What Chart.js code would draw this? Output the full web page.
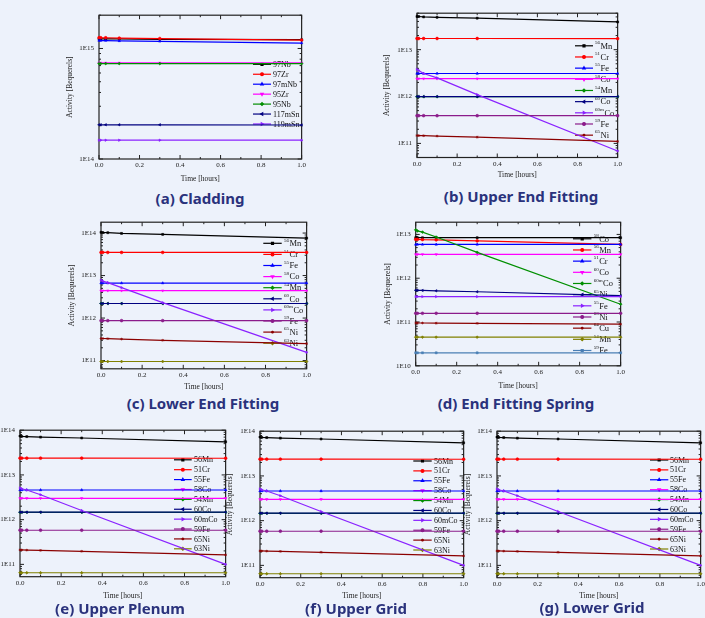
<!DOCTYPE html>
<html>
<head>
<meta charset="utf-8">
<script src="https://cdn.jsdelivr.net/npm/chart.js@4.4.1/dist/chart.umd.min.js"></script>
<style>
  body { margin: 0; background: #edf2fb; }
  #page { position: relative; width: 705px; height: 618px; overflow: hidden; background: #edf2fb; }
  #page canvas { position: absolute; }
  .cap { position: absolute; transform: translate(-50%, -50%); font: bold 15px "Noto Sans", sans-serif; color: #2a327c; white-space: nowrap; }
</style>
</head>
<body>
<div id="page"></div>
<script>
// tempos de resfriamento (horas) e ticks do eixo x
const hours = [0, 0.0083, 0.033, 0.1, 0.3, 1.0];
const hourTicks = [0, 0.2, 0.4, 0.6, 0.8, 1.0];

// (a) Cladding
const cladNames = ['97Nb', '97Zr', '97mNb', '95Zr', '95Nb', '117mSn', '119mSn'];
const cladNb97 = [1.22e15, 1.22e15, 1.22e15, 1.22e15, 1.21e15, 1.20e15];
const cladZr97 = [1.25e15, 1.25e15, 1.25e15, 1.24e15, 1.23e15, 1.19e15];
const cladNb97m = [1.18e15, 1.18e15, 1.18e15, 1.17e15, 1.16e15, 1.12e15];
const cladZr95 = [7.4e14, 7.4e14, 7.4e14, 7.4e14, 7.4e14, 7.4e14];
const cladNb95 = [7.3e14, 7.3e14, 7.3e14, 7.3e14, 7.3e14, 7.3e14];
const cladSn117m = [2.04e14, 2.04e14, 2.04e14, 2.04e14, 2.04e14, 2.03e14];
const cladSn119m = [1.48e14, 1.48e14, 1.48e14, 1.48e14, 1.48e14, 1.48e14];
const cladTicks = [1e14, 1e15];

// (b) Upper End Fitting
const uefNames = ['56Mn', '51Cr', '55Fe', '58Co', '54Mn', '60Co', '60mCo', '59Fe', '65Ni'];
const uefMn56 = [5.1e13, 5.1e13, 5.0e13, 4.9e13, 4.7e13, 3.9e13];
const uefCr51 = [1.73e13, 1.73e13, 1.73e13, 1.73e13, 1.73e13, 1.72e13];
const uefFe55 = [3.1e12, 3.1e12, 3.1e12, 3.1e12, 3.1e12, 3.1e12];
const uefCo58 = [2.4e12, 2.4e12, 2.4e12, 2.4e12, 2.4e12, 2.4e12];
const uefMn54 = [9.9e11, 9.9e11, 9.9e11, 9.9e11, 9.9e11, 9.9e11];
const uefCo60 = [1.0e12, 1.0e12, 1.0e12, 1.0e12, 1.0e12, 1.0e12];
const uefCo60m = [3.8e12, 3.6e12, 3.1e12, 2.5e12, 1.1e12, 6.9e10];
const uefFe59 = [3.9e11, 3.9e11, 3.9e11, 3.9e11, 3.9e11, 3.9e11];
const uefNi65 = [1.47e11, 1.47e11, 1.46e11, 1.43e11, 1.36e11, 1.1e11];
const uefTicks = [1e11, 1e12, 1e13];

// (c) Lower End Fitting
const lefNames = ['56Mn', '51Cr', '55Fe', '58Co', '54Mn', '60Co', '60mCo', '59Fe', '65Ni', '63Ni'];
const lefMn56 = [1.04e14, 1.03e14, 1.02e14, 9.8e13, 9.3e13, 7.6e13];
const lefCr51 = [3.5e13, 3.5e13, 3.5e13, 3.5e13, 3.5e13, 3.5e13];
const lefFe55 = [6.65e12, 6.65e12, 6.65e12, 6.65e12, 6.65e12, 6.65e12];
const lefCo58 = [4.4e12, 4.4e12, 4.4e12, 4.4e12, 4.4e12, 4.4e12];
const lefMn54 = [2.2e12, 2.2e12, 2.2e12, 2.2e12, 2.2e12, 2.2e12];
const lefCo60 = [2.2e12, 2.2e12, 2.2e12, 2.2e12, 2.2e12, 2.2e12];
const lefCo60m = [7.8e12, 7.4e12, 6.8e12, 5.2e12, 2.3e12, 1.56e11];
const lefFe59 = [8.7e11, 8.7e11, 8.7e11, 8.7e11, 8.7e11, 8.7e11];
const lefNi65 = [3.3e11, 3.3e11, 3.28e11, 3.2e11, 3.0e11, 2.5e11];
const lefNi63 = [9.5e10, 9.5e10, 9.5e10, 9.5e10, 9.5e10, 9.5e10];
const lefTicks = [1e11, 1e12, 1e13, 1e14];

// (d) End Fitting Spring
const sprNames = ['58Co', '56Mn', '51Cr', '60Co', '60mCo', '65Ni', '55Fe', '63Ni', '64Cu', '54Mn', '59Fe'];
const sprCo58 = [8.4e12, 8.4e12, 8.4e12, 8.4e12, 8.4e12, 8.4e12];
const sprMn56 = [7.7e12, 7.7e12, 7.6e12, 7.5e12, 7.1e12, 5.9e12];
const sprCr51 = [5.9e12, 5.9e12, 5.9e12, 5.9e12, 5.9e12, 5.9e12];
const sprCo60 = [3.5e12, 3.5e12, 3.5e12, 3.5e12, 3.5e12, 3.5e12];
const sprCo60m = [1.27e13, 1.2e13, 1.13e13, 8.7e12, 3.9e12, 2.55e11];
const sprNi65 = [5.3e11, 5.3e11, 5.25e11, 5.15e11, 4.9e11, 4.0e11];
const sprFe55 = [3.8e11, 3.8e11, 3.8e11, 3.8e11, 3.8e11, 3.8e11];
const sprNi63 = [1.58e11, 1.58e11, 1.58e11, 1.58e11, 1.58e11, 1.58e11];
const sprCu64 = [9.5e10, 9.5e10, 9.5e10, 9.4e10, 9.3e10, 8.9e10];
const sprMn54 = [4.5e10, 4.5e10, 4.5e10, 4.5e10, 4.5e10, 4.5e10];
const sprFe59 = [1.98e10, 1.98e10, 1.98e10, 1.98e10, 1.98e10, 1.98e10];
const sprTicks = [1e10, 1e11, 1e12, 1e13];

// (e) Upper Plenum, (f) Upper Grid, (g) Lower Grid
const pgNames = ['56Mn', '51Cr', '55Fe', '58Co', '54Mn', '60Co', '60mCo', '59Fe', '65Ni', '63Ni'];
const pgMn56 = [7.4e13, 7.3e13, 7.2e13, 7.0e13, 6.7e13, 5.5e13];
const pgCr51 = [2.37e13, 2.37e13, 2.37e13, 2.37e13, 2.37e13, 2.36e13];
const pgFe55 = [4.6e12, 4.6e12, 4.6e12, 4.6e12, 4.6e12, 4.6e12];
const pgCo58 = [3.0e12, 3.0e12, 3.0e12, 3.0e12, 3.0e12, 3.0e12];
const pgMn54 = [1.46e12, 1.46e12, 1.46e12, 1.46e12, 1.46e12, 1.46e12];
const pgCo60 = [1.47e12, 1.47e12, 1.47e12, 1.47e12, 1.47e12, 1.47e12];
const pgCo60m = [5.1e12, 4.9e12, 4.6e12, 3.6e12, 1.6e12, 1.0e11];
const pgFe59 = [5.8e11, 5.8e11, 5.8e11, 5.8e11, 5.8e11, 5.8e11];
const pgNi65 = [2.1e11, 2.1e11, 2.08e11, 2.05e11, 1.96e11, 1.63e11];
const pgNi63 = [6.5e10, 6.5e10, 6.5e10, 6.5e10, 6.5e10, 6.5e10];
const pgTicks = [1e11, 1e12, 1e13, 1e14];

// cores e símbolos no estilo do Origin (mesma ordem em todos os painéis)
const colors = ['#000000', '#ff0000', '#0000ff', '#ff00ff', '#008f00', '#000080', '#8a22ff', '#8b1c8b', '#8b0000', '#808000', '#4a7fb5'];
const markers = [['rect', 0], ['circle', 0], ['triangle', 0], ['triangle', 180], ['rectRot', 0], ['triangle', -90],
                 ['triangle', 90], ['circle', 0], ['star', 0], ['rectRot', 0], ['rect', 0]];

const serif = "'Liberation Serif', 'DejaVu Serif', serif";
const page = document.getElementById('page');

// legenda dentro da área do gráfico (linha + símbolo + texto)
const inLegend = {
    id: 'inLegend',
    beforeDatasetsDraw(chart, args, o) {
        const ctx = chart.ctx;
        ctx.save();
        chart.data.datasets.forEach((ds, i) => {
            const y = o.y0 + i * o.dy - o.top;
            const x1 = o.x1 - o.left, x2 = o.x2 - o.left;
            ctx.strokeStyle = ds.borderColor;
            ctx.fillStyle = ds.borderColor;
            ctx.lineWidth = 1.2;
            ctx.beginPath(); ctx.moveTo(x1, y); ctx.lineTo(x2, y); ctx.stroke();
            Chart.helpers.drawPoint(ctx, { pointStyle: ds.pointStyle, rotation: ds.rotation, radius: 1.4, borderWidth: 0.6 }, (x1 + x2) / 2, y);
            ctx.fillStyle = '#111';
            ctx.textBaseline = 'middle';
            let tx = o.tx - o.left;
            const m = ds.label.match(/^(\d+m?)(.+)$/);
            if (o.sup && m) {
                ctx.font = '5px ' + serif;
                ctx.fillText(m[1], tx, y - 3);
                tx += ctx.measureText(m[1]).width + 0.5;
                ctx.font = o.size + 'px ' + serif;
                ctx.fillText(m[2], tx, y + 0.5);
            } else {
                ctx.font = o.size + 'px ' + serif;
                ctx.fillText(ds.label, tx, y + 0.5);
            }
        });
        ctx.restore();
    }
};

// moldura e ticks internos (maiores e menores)
const frame = {
    id: 'frame',
    beforeDatasetsDraw(chart) {
        const { ctx, chartArea: a, scales: { x, y } } = chart;
        ctx.save();
        ctx.strokeStyle = '#222';
        ctx.lineWidth = 1;
        ctx.beginPath();
        hourTicks.forEach((v, i) => {
            const p = x.getPixelForValue(v);
            ctx.moveTo(p, a.bottom); ctx.lineTo(p, a.bottom - 4);
            ctx.moveTo(p, a.top); ctx.lineTo(p, a.top + 4);
            if (i > 0) {
                const q = x.getPixelForValue(v - 0.1);
                ctx.moveTo(q, a.bottom); ctx.lineTo(q, a.bottom - 2);
                ctx.moveTo(q, a.top); ctx.lineTo(q, a.top + 2);
            }
        });
        const e0 = Math.floor(Math.log10(y.min)), e1 = Math.ceil(Math.log10(y.max));
        for (let e = e0; e <= e1; e++) {
            for (let k = 1; k <= 9; k++) {
                const v = k * Math.pow(10, e);
                if (v < y.min || v > y.max) continue;
                const p = y.getPixelForValue(v), len = k === 1 ? 4 : 2;
                ctx.moveTo(a.left, p); ctx.lineTo(a.left + len, p);
                ctx.moveTo(a.right, p); ctx.lineTo(a.right - len, p);
            }
        }
        ctx.stroke();
        ctx.lineWidth = 1.2;
        ctx.strokeRect(a.left, a.top, a.right - a.left, a.bottom - a.top);
        ctx.restore();
    }
};

function addPanel(p) {
    const pt = 6, pr = 6;
    const W = p.yTitleX ? p.plot.L - p.yTitleX + 6 : 24;
    const H = p.xTitleY - p.plot.B + 6;
    const left = p.plot.L - W, top = p.plot.T - pt;
    const canvas = document.createElement('canvas');
    canvas.width = Math.round(p.plot.R + pr - left);
    canvas.height = Math.round(p.plot.B + H - top);
    canvas.style.left = left + 'px';
    canvas.style.top = top + 'px';
    page.appendChild(canvas);

    const n = p.names.length;
    const datasets = p.names.map((name, i) => ({
        label: name,
        data: hours.map((h, j) => ({ x: h, y: p.series[i][j] })),
        borderColor: colors[i],
        backgroundColor: colors[i],
        borderWidth: 1.2,
        pointStyle: markers[i][0],
        rotation: markers[i][1],
        pointRadius: 1.4,
        pointBorderWidth: 0.6,
        fill: false,
        tension: 0,
        clip: false,
        order: n - i
    }));

    new Chart(canvas.getContext('2d'), {
        type: 'line',
        data: { datasets },
        plugins: [frame, inLegend],
        options: {
            animation: false,
            responsive: false,
            events: [],
            layout: { padding: { top: pt, right: pr, left: 0, bottom: 0 } },
            plugins: {
                legend: { display: false },
                tooltip: { enabled: false },
                inLegend: { left, top, x1: p.legend.x1, x2: p.legend.x2, tx: p.legend.tx, y0: p.legend.y0, dy: p.legend.dy, sup: p.sup, size: p.legend.size }
            },
            scales: {
                x: {
                    type: 'linear', min: 0, max: 1,
                    afterFit: s => { s.height = H; },
                    afterBuildTicks: s => { s.ticks = hourTicks.map(v => ({ value: v })); },
                    grid: { display: false, drawTicks: false },
                    border: { display: false },
                    ticks: { padding: 2, autoSkip: false, maxRotation: 0, color: '#222', font: { family: serif, size: 7 }, callback: v => v.toFixed(1) },
                    title: { display: true, text: 'Time [hours]', color: '#222', font: { family: serif, size: 7.5 }, padding: { top: 0, bottom: 1.5 } }
                },
                y: {
                    type: 'logarithmic', min: p.yMin, max: p.yMax,
                    afterFit: s => { s.width = W; },
                    afterBuildTicks: s => { s.ticks = p.yTicks.map(v => ({ value: v })); },
                    grid: { display: false, drawTicks: false },
                    border: { display: false },
                    ticks: { padding: 5, autoSkip: false, color: '#222', font: { family: serif, size: 7 }, callback: v => '1E' + Math.round(Math.log10(v)) },
                    title: { display: !!p.yTitleX, text: 'Activity [Bequerels]', color: '#222', font: { family: serif, size: 7.5 }, padding: { top: 1.5, bottom: 0 } }
                }
            }
        }
    });

    const cap = document.createElement('div');
    cap.className = 'cap';
    cap.textContent = p.caption;
    cap.style.left = p.capX + 'px';
    cap.style.top = p.capY + 'px';
    page.appendChild(cap);
}

addPanel({
    plot: { L: 99, T: 12, R: 302, B: 159 }, yTitleX: 70, xTitleY: 179,
    names: cladNames, series: [cladNb97, cladZr97, cladNb97m, cladZr95, cladNb95, cladSn117m, cladSn119m],
    yMin: 1e14, yMax: 2e15, yTicks: cladTicks, sup: false,
    legend: { x1: 253, x2: 271, tx: 273, y0: 64.3, dy: 9.95, size: 8 },
    caption: '(a) Cladding', capX: 200, capY: 198
});
addPanel({
    plot: { L: 417, T: 9.5, R: 618, B: 157 }, yTitleX: 387, xTitleY: 174.5,
    names: uefNames, series: [uefMn56, uefCr51, uefFe55, uefCo58, uefMn54, uefCo60, uefCo60m, uefFe59, uefNi65],
    yMin: 5e10, yMax: 6e13, yTicks: uefTicks, sup: true,
    legend: { x1: 575, x2: 593, tx: 595, y0: 45.3, dy: 11.17, size: 8.5 },
    caption: '(b) Upper End Fitting', capX: 521, capY: 195.5
});
addPanel({
    plot: { L: 101, T: 219, R: 307, B: 368.5 }, yTitleX: 72, xTitleY: 386.7,
    names: lefNames, series: [lefMn56, lefCr51, lefFe55, lefCo58, lefMn54, lefCo60, lefCo60m, lefFe59, lefNi65, lefNi63],
    yMin: 6.4e10, yMax: 1.8e14, yTicks: lefTicks, sup: true,
    legend: { x1: 263.3, x2: 281.7, tx: 284, y0: 243.3, dy: 11.1, size: 8.5 },
    caption: '(c) Lower End Fitting', capX: 203, capY: 402.5
});
addPanel({
    plot: { L: 416, T: 218.5, R: 621, B: 365.5 }, yTitleX: 388.3, xTitleY: 385.7,
    names: sprNames, series: [sprCo58, sprMn56, sprCr51, sprCo60, sprCo60m, sprNi65, sprFe55, sprNi63, sprCu64, sprMn54, sprFe59],
    yMin: 1e10, yMax: 1.9e13, yTicks: sprTicks, sup: true,
    legend: { x1: 573.3, x2: 591.7, tx: 594, y0: 238.3, dy: 11.17, size: 8.5 },
    caption: '(d) End Fitting Spring', capX: 516, capY: 402.5
});
const pgSeries = [pgMn56, pgCr51, pgFe55, pgCo58, pgMn54, pgCo60, pgCo60m, pgFe59, pgNi65, pgNi63];
addPanel({
    plot: { L: 20, T: 426.5, R: 226, B: 576 }, yTitleX: null, xTitleY: 595.3,
    names: pgNames, series: pgSeries,
    yMin: 5.3e10, yMax: 1e14, yTicks: pgTicks, sup: false,
    legend: { x1: 174, x2: 191.7, tx: 194, y0: 459.3, dy: 9.89, size: 8 },
    caption: '(e) Upper Plenum', capX: 120, capY: 608
});
addPanel({
    plot: { L: 260, T: 428, R: 464, B: 577.7 }, yTitleX: 230, xTitleY: 596,
    names: pgNames, series: pgSeries,
    yMin: 5.3e10, yMax: 1e14, yTicks: pgTicks, sup: false,
    legend: { x1: 413.3, x2: 431.7, tx: 434, y0: 461, dy: 9.89, size: 8 },
    caption: '(f) Upper Grid', capX: 356, capY: 608
});
addPanel({
    plot: { L: 497, T: 428, R: 701, B: 577.7 }, yTitleX: 468, xTitleY: 596,
    names: pgNames, series: pgSeries,
    yMin: 5.3e10, yMax: 1e14, yTicks: pgTicks, sup: false,
    legend: { x1: 650, x2: 668.3, tx: 670, y0: 460, dy: 9.89, size: 8 },
    caption: '(g) Lower Grid', capX: 592, capY: 607
});
</script>
</body>
</html>
